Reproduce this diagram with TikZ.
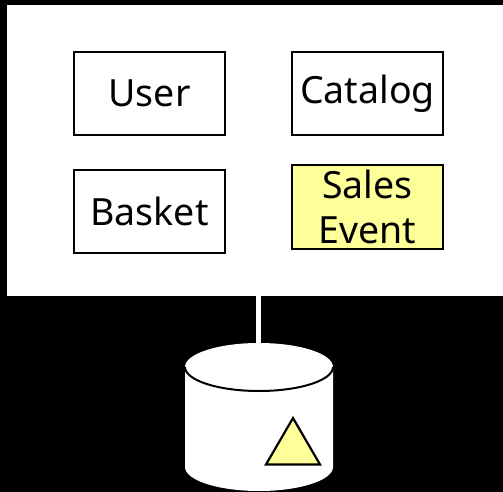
\documentclass[tikz,border=0pt]{standalone}
\usepackage{fontspec}
\setmainfont{Noto Sans}
\definecolor{paleyellow}{RGB}{255,255,153}
\tikzset{
  box/.style={draw=black,line width=2.2pt,fill=white,minimum width=151.5pt,minimum height=83.5pt,inner sep=0pt,font=\fontsize{37.5}{46}\selectfont,align=center,text=black},
  wire/.style={draw=white,line width=4.5pt}
}
\begin{document}
\begin{tikzpicture}[x=1pt,y=-1pt]
\useasboundingbox (0,0) rectangle (503,492);
\fill[black] (0,0) rectangle (503,492);
\node[fill=white,minimum width=496pt,minimum height=291pt,inner sep=0pt,anchor=north west] (panel) at (7,5) {};
\node[box] (user) at (149.5,93.5) {User};
\node[box] (catalog) at (367.5,93.5) {Catalog};
\node[box] (basket) at (149.5,211.5) {Basket};
\node[box,fill=paleyellow] (sales) at (367.5,207) {Sales\\[-1pt]Event};
\coordinate (dbtop) at (258.5,345);
\draw[wire] (panel.south -| dbtop) -- (dbtop);
\fill[white] (185,367) arc[start angle=180,end angle=360,x radius=74,y radius=24] -- (333,467) arc[start angle=0,end angle=180,x radius=74,y radius=24] -- cycle;
\draw[black,line width=2pt] (185,367) arc[start angle=180,end angle=0,x radius=74,y radius=24];
\draw[black,line width=2.2pt,fill=paleyellow,line join=miter] (293,418) -- (320,464.5) -- (266,464.5) -- cycle;
\end{tikzpicture}
\end{document}
